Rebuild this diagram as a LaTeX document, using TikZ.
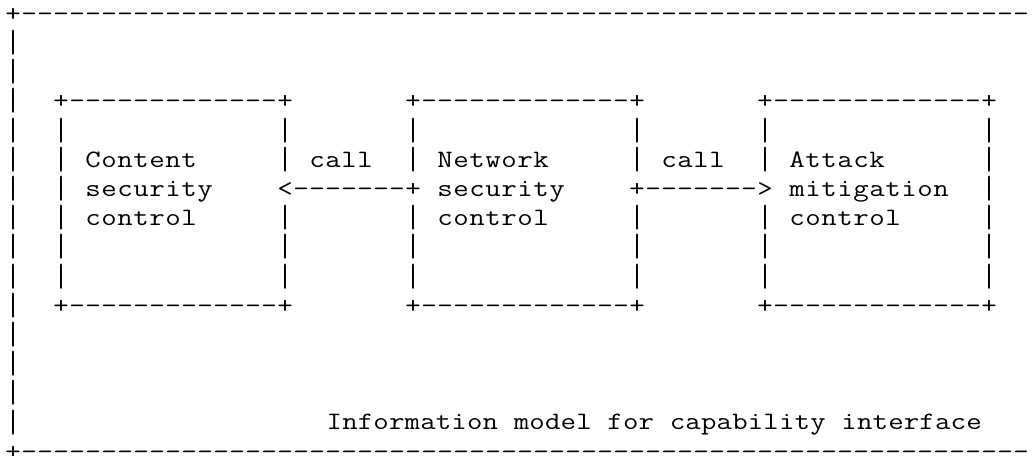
\documentclass[tikz,border=0pt]{standalone}

% Monospaced character cells: every glyph sits centred in a fixed-width cell,
% widened a little so the typewriter face fills its cell
\newcommand\asciifont{\fontsize{25pt}{25pt}\selectfont\ttfamily}
\tikzset{
  ascii/.style={inner sep=0pt, outer sep=0pt, font=\asciifont, text=black, anchor=base west},
}

% \asciirun[pitch]{name}{column}{row}{characters}
% places a run of characters on the character grid (16pt columns, 29.2pt rows);
% vertical bars are stretched to join up from row to row
\ExplSyntaxOn
\NewDocumentCommand \asciicell { m }
  {
    \str_if_eq:nnTF {#1} {|}
      { \raisebox{-5pt}{\resizebox*{1.2\width}{25pt}{\raisebox{\depth}{|}}} }
      { \scalebox{1.2}[1]{#1} }
  }
\NewDocumentCommand \asciirun { O{16} m m m m }
  {
    \node [ascii] (#2) at ( { (5 + 16 * #3) * 1pt }, { -(21 + 29.2 * #4) * 1pt } )
      { \str_map_inline:nn {#5} { \makebox[#1pt][c]{ \asciicell{##1} } } };
  }
\ExplSyntaxOff

\begin{document}
\begin{tikzpicture}[x=1pt,y=1pt]
  \fill[white] (0,0) rectangle (1035,-455);
  \useasboundingbox (0,0) rectangle (1035,-455);
  \begin{scope}
    \clip (0,0) rectangle (1035,-455);

    % outer frame: top edge, left side, bottom edge
    \asciirun{frametop}{0}{0}{+---------------------------------------------------------------}
    \foreach \r in {1,...,14} {
      \asciirun{frameside\r}{0}{\r}{|}
    }
    \asciirun{framebottom}{0}{15}{+---------------------------------------------------------------}

    % the three control boxes: top and bottom edges
    \asciirun{contenttop}{3}{3}{+-------------+}
    \asciirun{contentbottom}{3}{10}{+-------------+}
    \asciirun{networktop}{25}{3}{+-------------+}
    \asciirun{networkbottom}{25}{10}{+-------------+}
    \asciirun{attacktop}{47}{3}{+-------------+}
    \asciirun{attackbottom}{47}{10}{+-------------+}

    % box sides (row 6 of the inner sides belongs to the arrows)
    \foreach \r in {4,...,9} {
      \asciirun{contentleft\r}{3}{\r}{|}
      \asciirun{attackright\r}{61}{\r}{|}
    }
    \foreach \r in {4,5,7,8,9} {
      \asciirun{contentright\r}{17}{\r}{|}
      \asciirun{networkleft\r}{25}{\r}{|}
      \asciirun{networkright\r}{39}{\r}{|}
      \asciirun{attackleft\r}{47}{\r}{|}
    }

    % box labels
    \asciirun{contentlabela}{5}{5}{Content}
    \asciirun{contentlabelb}{5}{6}{security}
    \asciirun{contentlabelc}{5}{7}{control}
    \asciirun{networklabela}{27}{5}{Network}
    \asciirun{networklabelb}{27}{6}{security}
    \asciirun{networklabelc}{27}{7}{control}
    \asciirun{attacklabela}{49}{5}{Attack}
    \asciirun{attacklabelb}{49}{6}{mitigation}
    \asciirun{attacklabelc}{49}{7}{control}

    % call arrows with their labels
    \asciirun{callleft}{19}{5}{call}
    \asciirun{arrowleft}{17}{6}{<-------+}
    \asciirun{callright}{41}{5}{call}
    \asciirun{arrowright}{39}{6}{+------->}

    % caption
    \asciirun[15.6]{caption}{20.1}{14}{Information model for capability interface}
  \end{scope}
\end{tikzpicture}
\end{document}
